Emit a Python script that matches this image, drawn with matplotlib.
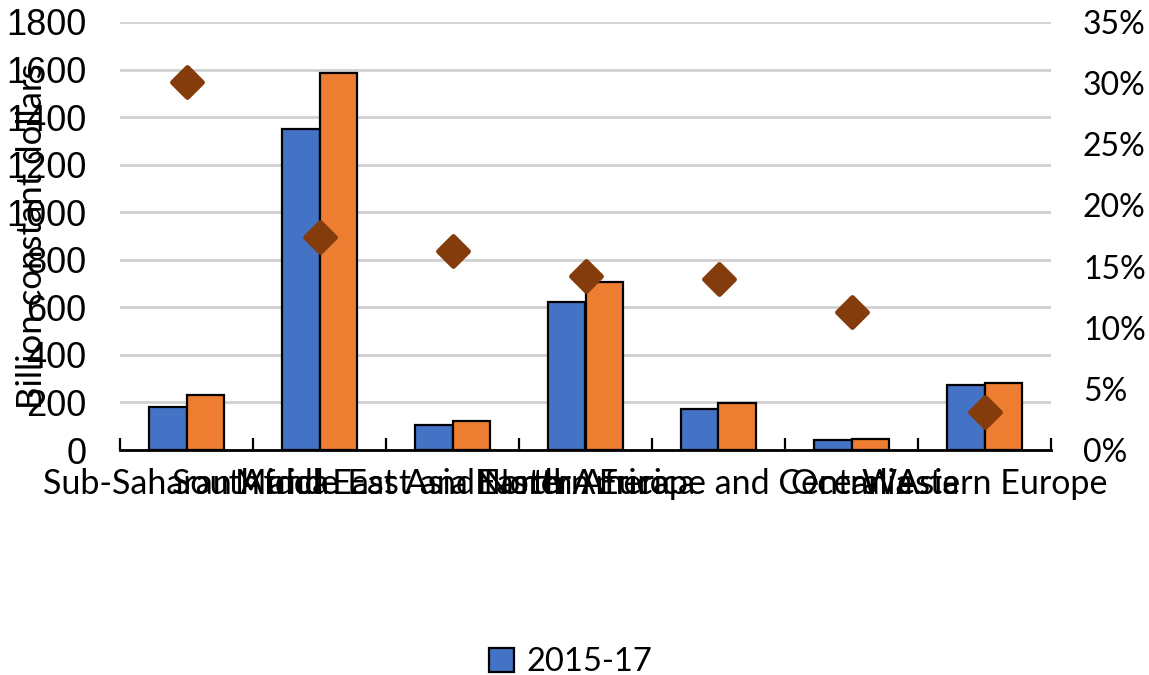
#!/usr/bin/env python3
"""Regional spending bars (2015-17 vs later) with growth diamonds on a % axis."""

import numpy as np
import matplotlib
matplotlib.use("Agg")
import matplotlib.pyplot as plt
from matplotlib.markers import MarkerStyle
from matplotlib.ticker import FuncFormatter, FixedLocator

# data
regions = [
    "Sub-Saharan Africa",
    "South and East Asia",
    "Middle East and North Africa",
    "North America",
    "Eastern Europe and Central Asia",
    "Oceania",
    "Western Europe",
]
spend_2015_17 = [180, 1350, 105, 621, 174, 42, 273]
spend_later = [231, 1587, 122, 706, 199, 46, 282]
growth_pct = [30.1, 17.4, 16.3, 14.2, 14.0, 11.3, 3.1]

left_ticks = [0, 200, 400, 600, 800, 1000, 1200, 1400, 1600, 1800]
right_ticks = [0, 5, 10, 15, 20, 25, 30, 35]

BLUE = "#4472C4"
ORANGE = "#ED7D31"
BROWN = "#843C0C"
GRID = "#D0D0D0"
CAT_FONT = "Lato"
NUM_FONT = "Liberation Sans"

fig = plt.figure(figsize=(11.49, 6.75), dpi=100)
ax = fig.add_axes([120 / 1149, 1 - 450 / 675, (1051 - 120) / 1149, (450 - 22) / 675])
ax2 = ax.twinx()

x = np.arange(len(regions))
w = 0.283
b1 = ax.bar(x - w / 2, spend_2015_17, w, color=BLUE, edgecolor="black", lw=1.6, zorder=3)
b2 = ax.bar(x + w / 2, spend_later, w, color=ORANGE, edgecolor="black", lw=1.6, zorder=3)

ax.set_xlim(-0.5, len(regions) - 0.5)
ax.set_ylim(0, 1800)
ax.set_yticks(left_ticks)
ax.yaxis.grid(True, color=GRID, lw=2)
ax.set_axisbelow(True)
for side in ["left", "right", "top"]:
    ax.spines[side].set_visible(False)
ax.spines["bottom"].set_linewidth(2)

ax.set_xticks(x)
ax.set_xticklabels(regions, fontsize=24.5, family=CAT_FONT)
ax.tick_params(axis="x", which="major", length=0, pad=13)
ax.xaxis.set_minor_locator(FixedLocator(np.arange(-0.5, len(regions), 1.0)))
ax.tick_params(axis="x", which="minor", direction="in", length=8.5, width=1.6)
ax.tick_params(axis="y", length=0, pad=24)
for lab in ax.get_yticklabels():
    lab.set_fontsize(26)
    lab.set_family(NUM_FONT)

ax.set_ylabel("Billion constant dollars", fontsize=25, family=CAT_FONT)
ax.yaxis.set_label_coords(-0.077, 0.5)

diamond = MarkerStyle("D", joinstyle="round")
ax2.plot(x, growth_pct, ls="none", marker=diamond, ms=15, color=BROWN,
         mec=BROWN, mew=3.5, zorder=5)
ax2.set_ylim(0, 35)
ax2.set_yticks(right_ticks)
ax2.yaxis.set_major_formatter(FuncFormatter(lambda v, _: f"{v:.0f}%"))
ax2.tick_params(axis="y", length=0, pad=23)
for lab in ax2.get_yticklabels():
    lab.set_fontsize(23)
    lab.set_family(CAT_FONT)
for side in ["left", "right", "top", "bottom"]:
    ax2.spines[side].set_visible(False)

fig.legend([b1], ["2015-17"], loc="center", bbox_to_anchor=(0.497, 1 - 662 / 675),
           frameon=False, prop={"family": CAT_FONT, "size": 23.5},
           handlelength=0.75, handleheight=0.75, handletextpad=0.4)

fig.savefig("out.png", dpi=100)
